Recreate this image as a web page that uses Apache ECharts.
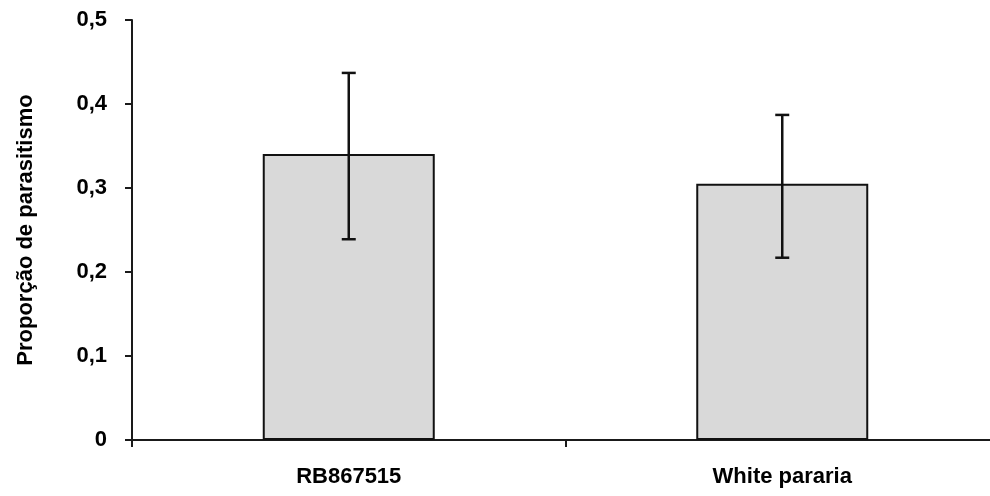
<!DOCTYPE html>
<html><head><meta charset="utf-8">
<script src="https://cdn.jsdelivr.net/npm/echarts@6/dist/echarts.min.js"></script>
<style>html,body{margin:0;padding:0;background:#fff;overflow:hidden}#c{width:999px;height:496px}</style>
</head><body><div id="c"></div>
<script>
const categories = ['RB867515', 'White pararia'];
const means = [0.3405, 0.305];
const errLow = [0.239, 0.217];
const errHigh = [0.437, 0.387];
const yTicks = ['0', '0,1', '0,2', '0,3', '0,4', '0,5'];

const chart = echarts.init(document.getElementById('c'));
const font = 'Liberation Sans, Arial, sans-serif';
chart.setOption({
  animation: false,
  grid: { left: 132, right: 0, top: 20, bottom: 56, containLabel: false },
  xAxis: {
    type: 'category', data: categories,
    axisLine: { lineStyle: { color: '#1a1a1a', width: 2 } },
    axisTick: { show: true, inside: false, length: 7, alignWithLabel: false, lineStyle: { color: '#1a1a1a', width: 2 } },
    axisLabel: { color: '#000', fontFamily: font, fontWeight: 'bold', fontSize: 22, margin: 26 },
    splitLine: { show: false }
  },
  yAxis: {
    type: 'value', min: 0, max: 0.5, interval: 0.1,
    name: 'Proporção de parasitismo', nameLocation: 'middle', nameGap: 95, nameRotate: 90,
    nameTextStyle: { color: '#000', fontFamily: font, fontWeight: 'bold', fontSize: 22 },
    axisLine: { show: true, lineStyle: { color: '#1a1a1a', width: 2 } },
    axisTick: { show: true, length: 7, lineStyle: { color: '#1a1a1a', width: 2 } },
    axisLabel: { color: '#000', fontFamily: font, fontWeight: 'bold', fontSize: 22, margin: 25,
      formatter: v => yTicks[Math.round(v * 10)] },
    splitLine: { show: false }
  },
  series: [
    { type: 'bar', data: means, barWidth: 172,
      itemStyle: { color: '#d9d9d9', borderColor: '#111', borderWidth: 2 } },
    { type: 'custom', z: 10,
      data: categories.map((c, i) => [i, errLow[i], errHigh[i]]),
      renderItem: (params, api) => {
        const lo = api.coord([api.value(0), api.value(1)]);
        const hi = api.coord([api.value(0), api.value(2)]);
        const w = 7;
        const st = { stroke: '#111', lineWidth: 2.5 };
        return { type: 'group', children: [
          { type: 'line', shape: { x1: hi[0], y1: hi[1], x2: lo[0], y2: lo[1] }, style: st },
          { type: 'line', shape: { x1: hi[0] - w, y1: hi[1], x2: hi[0] + w, y2: hi[1] }, style: st },
          { type: 'line', shape: { x1: lo[0] - w, y1: lo[1], x2: lo[0] + w, y2: lo[1] }, style: st }
        ]};
      }
    }
  ]
});
</script></body></html>
